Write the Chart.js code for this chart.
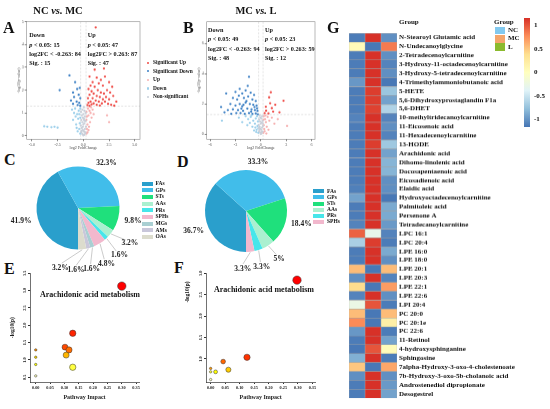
<!DOCTYPE html>
<html><head><meta charset="utf-8">
<script src="https://cdn.jsdelivr.net/npm/chart.js@4.4.0/dist/chart.umd.min.js"></script>
<style>
html,body{margin:0;padding:0;background:#fff;}
body{width:550px;height:409px;position:relative;overflow:hidden;font-family:"Liberation Serif","Times New Roman",serif;font-weight:bold;color:#111;}
.box{position:absolute;}
.t{position:absolute;white-space:nowrap;}
</style></head><body>
<script>
// ---------------- DATA ----------------
// Volcano A (NC vs MC): [log2FC, -log10 p]
const sigUpA=[[1.2,4.75],[0.6,2.6],[1.3,2.55],[2.1,2.6],[1.7,2.45],[0.9,2.35],[2.5,2.35],[1.5,2.3],[0.7,2.2],[1.1,2.15],[1.9,2.2],[2.8,2.15],[0.5,2.05],[1.4,2.0],[2.3,2.0],[0.8,1.95],[1.7,1.9],[2.6,1.9],[1.0,1.85],[2.0,1.85],[0.6,1.8],[1.3,1.75],[2.9,1.75],[1.6,1.7],[2.2,1.7],[0.45,1.65],[0.9,1.65],[1.9,1.6],[2.5,1.6],[1.2,1.55],[0.7,1.5],[1.5,1.5],[2.1,1.5],[3.2,1.5],[0.5,1.45],[1.0,1.42],[1.8,1.42],[2.4,1.4],[0.8,1.38],[1.3,1.36],[2.7,1.36],[0.4,1.35],[1.6,1.33],[2.0,2.95],[0.6,1.31],[1.1,2.9],[3.0,1.32]];
const sigDownA=[[-1.35,2.65],[-0.8,2.35],[-0.35,2.1],[-0.6,2.05],[-1.0,1.9],[-0.45,1.8],[-0.9,1.7],[-0.3,1.65],[-1.2,1.55],[-0.65,1.5],[-0.4,1.45],[-1.0,1.4],[-0.55,1.35],[-0.3,1.32],[-2.3,2.0]];
const upA=[[0.3,0.1],[0.35,0.3],[0.4,0.5],[0.3,0.7],[0.5,0.9],[0.6,1.1],[0.45,1.2],[0.7,1.0],[0.4,0.15],[0.55,0.4],[0.8,0.8],[0.35,0.85],[0.9,1.15],[0.65,0.6],[0.5,0.25],[1.0,0.95],[2.3,0.9],[2.5,0.6],[0.3,1.05],[0.75,1.25]];
const downA=[[-0.3,0.1],[-0.4,0.3],[-0.35,0.55],[-0.5,0.75],[-0.6,0.95],[-0.45,1.1],[-0.8,1.2],[-0.7,0.5],[-0.3,0.8],[-0.9,1.0],[-0.55,0.2],[-1.1,1.15],[-0.4,0.95],[-0.65,0.35],[-3.5,0.4],[-3.1,0.38],[-2.8,0.4],[-2.5,0.36],[-3.8,0.42],[-0.3,1.2],[-1.0,0.7],[-0.75,0.85]];
const nsA=[[0,0.02],[0.1,0.05],[-0.1,0.08],[0.2,0.12],[-0.2,0.15],[0.05,0.2],[-0.05,0.25],[0.15,0.3],[-0.15,0.35],[0.25,0.4],[-0.25,0.45],[0.0,0.5],[0.1,0.55],[-0.1,0.6],[0.2,0.65],[-0.2,0.7],[0.05,0.75],[-0.05,0.8],[0.15,0.85],[-0.15,0.9],[0.0,0.95],[0.22,1.0],[-0.22,1.05],[0.1,1.1],[-0.1,1.15],[0.05,1.25],[-0.05,0.4],[0.12,0.18],[-0.18,0.22],[0.08,0.68]];
// Volcano B (MC vs L)
const sigUpB=[[1.18,2.78],[0.98,2.44],[2.68,2.22],[0.59,1.82],[1.3,1.73],[1.7,1.95],[0.62,1.56],[0.9,1.38],[1.45,1.5],[2.2,1.45],[0.45,1.4],[1.1,2.05]];
const sigDownB=[[-1.4,3.8],[-4.1,2.7],[-4.7,1.8],[-2.5,3.0],[-3.0,2.8],[-2.2,2.7],[-1.8,2.9],[-1.2,2.75],[-0.8,2.6],[-3.3,2.4],[-2.8,2.3],[-2.0,2.4],[-1.5,2.5],[-1.0,2.3],[-0.6,2.2],[-3.6,2.0],[-3.0,1.9],[-2.5,2.0],[-2.2,1.85],[-1.8,2.1],[-1.3,2.0],[-0.9,1.95],[-0.5,1.9],[-3.9,1.6],[-3.3,1.65],[-2.7,1.6],[-2.1,1.55],[-1.6,1.7],[-1.1,1.65],[-0.7,1.6],[-0.4,1.55],[-2.9,1.4],[-2.4,1.4],[-1.9,1.35],[-1.4,1.4],[-1.0,1.35],[-0.6,1.38],[-0.35,1.32],[-1.7,2.2],[-2.6,2.55],[-3.5,1.35],[-1.15,1.5],[-0.75,1.8],[-2.3,1.7],[-4.3,1.45],[-1.55,3.2],[-2.05,1.95],[-0.45,1.72]];
const upB=[[0.3,0.1],[0.4,0.35],[0.35,0.6],[0.6,0.8],[0.5,1.0],[0.8,1.15],[0.45,0.2],[0.7,0.5],[1.0,0.9],[0.3,0.95],[1.3,1.1],[0.55,1.25],[0.9,0.3],[3.1,0.55],[1.6,0.7],[0.35,1.2],[2.0,1.0],[0.65,0.05]];
const downB=[[-0.3,0.1],[-0.5,0.3],[-0.4,0.55],[-0.7,0.7],[-0.9,0.9],[-0.6,1.05],[-1.2,1.15],[-1.5,1.0],[-0.35,0.85],[-1.0,0.5],[-0.8,0.25],[-1.8,1.2],[-0.45,1.2],[-2.2,0.8],[-1.3,0.75],[-0.55,0.15],[-2.6,1.1],[-4.6,0.9],[-0.3,0.4],[-1.1,1.25],[-0.65,0.45],[-1.6,0.6]];
const nsB=[[0,0.02],[0.1,0.08],[-0.1,0.12],[0.2,0.18],[-0.2,0.22],[0.05,0.3],[-0.05,0.38],[0.15,0.45],[-0.15,0.5],[0.25,0.55],[-0.25,0.62],[0,0.7],[0.1,0.78],[-0.1,0.85],[0.2,0.9],[-0.2,0.98],[0.05,1.05],[-0.05,1.12],[0.15,1.2],[-0.15,1.25],[0.08,0.15],[-0.12,0.32],[0.22,0.72],[-0.22,0.4]];
const FC_CUT=[-0.263,0.263];
const P_CUT=1.301;
const statsA={down:['Down','<i>p</i> &lt; 0.05: 15','log2FC &lt; -0.263: 84','Sig. : 15'],up:['Up','<i>p</i> &lt; 0.05: 47','log2FC &gt; 0.263: 87','Sig. : 47']};
const statsB={down:['Down','<i>p</i> &lt; 0.05: 49','log2FC &lt; -0.263: 94','Sig. : 48'],up:['Up','<i>p</i> &lt; 0.05: 23','log2FC &gt; 0.263: 59','Sig. : 12']};
const volLegend=['Significant Up','Significant Down','Up','Down','Non-significant'];

// Pies
const catsC=['FAs','GPs','STs','AAs','PRs','SPHs','MGs','AMs','OAs'];
const pctC=[41.9,32.3,9.8,3.2,1.6,4.8,1.6,1.6,3.2];
const catsD=['FAs','GPs','STs','AAs','PRs','SPHs'];
const pctD=[36.7,33.3,18.4,5,3.3,3.3];

// Pathway bubbles
const impactE=[0.30,0.129,0.102,0.116,0.106,0.129,0,0,0,0];
const logpE=[3.13,1.77,1.37,1.29,1.14,0.79,1.29,1.08,0.87,0.54];
const impactF=[0.297,0.125,0.043,0.061,0.017,0,0,0];
const logpF=[2.84,1.04,0.94,0.75,0.70,0.78,0.70,0.52];
const pathLabel='Arachidonic acid metabolism';

// Heatmap
const metabolites=['N-Stearoyl Glutamic acid','N-Undecanoylglycine','2-Tetradecenoylcarnitine','3-Hydroxy-11-octadecenoylcarnitine','3-Hydroxy-5-tetradecenoylcarnitine','4-Trimethylammoniobutanoic acid','5-HETE','5,6-Dihydroxyprostaglandin F1a','5,6-DHET','10-methyltridecanoylcarnitine','11-Eicosenoic acid','11-Hexadecenoylcarnitine','13-HODE','Arachidonic acid','Dihomo-linolenic acid','Docosapentaenoic acid','Eicosadienoic acid','Elaidic acid','Hydroxyoctadecenoylcarnitine','Palmitoleic acid','Persenone A','Tetradecanoylcarnitine','LPC 16:1','LPC 20:4','LPE 16:0','LPE 18:0','LPE 20:1','LPE 20:3','LPE 22:1','LPE 22:6','LPI 20:4','PC 20:0','PC 20:1e','PC 22:6','11-Retinol','4-hydroxysphinganine','Sphingosine','7alpha-Hydroxy-3-oxo-4-cholestenoate','7b-Hydroxy-3-oxo-5b-cholanoic acid','Androstenediol dipropionate','Desogestrel'];
const groups=['NC','MC','L'];
const zNC=[-1.12,0.05,-1.12,-1.12,-1.12,-0.98,-1.12,-1.12,-1.12,-1.08,-1.12,-1.12,-1.12,-1.12,-1.12,-1.12,-1.12,-1.1,-0.92,-1.12,-1.12,-1.08,0.95,-0.65,-1.12,-1.12,0.55,-1.02,0.4,-1.08,-0.25,0.55,0.78,-0.98,-1.12,-1.14,-0.85,0.5,-1.02,-1.12,-1.12];
const zMC=[1.15,-1.14,1.15,1.15,1.15,1.15,1.1,1.1,1.08,1.15,1.15,1.15,1.1,1.15,1.15,1.15,1.15,1.15,1.15,1.15,1.15,1.15,-0.3,1.1,1.15,1.15,-1.14,1.15,-1.14,1.15,1.0,-1.14,-1.14,1.15,1.15,1.0,1.15,-1.14,1.15,1.15,1.15];
const zL=[-1.02,0.85,-1.02,-1.08,-1.02,-1.14,-0.72,-0.92,-0.62,-1.08,-1.02,-1.08,-0.7,-0.92,-0.82,-0.82,-1.02,-1.02,-1.14,-0.88,-0.88,-0.97,-1.08,-1.12,-0.88,-1.02,0.55,-1.08,0.7,-1.02,-1.12,0.55,0.2,-1.12,-0.92,0.05,-1.12,0.65,-1.02,-0.97,-0.92];
const scaleTicks=[1,0.5,0,-0.5,-1];

// ---------------- STYLE ----------------
const COL={sigUp:'#ef4a45',sigDown:'#3b7fc4',up:'#f6b0b0',down:'#9ccfea',ns:'#c9cfd9'};
const pieColors=['#2a9fcc','#41bdea','#1fe07c','#aaf0d0','#47e6ea','#f2b8cd','#a9cfd2','#c9c7da','#dcdccd'];
const groupColors=['#82c9ef','#f4a56b','#8bba2e'];
const heatStops=['#4575B4','#91BFDB','#E0F3F8','#FFFFBF','#FEE090','#FC8D59','#D73027'];
const ZMIN=-1.155,ZMAX=1.155;
const FONT='"Liberation Serif","Times New Roman",serif';

Chart.defaults.font.family=FONT;
Chart.defaults.font.weight='bold';
Chart.defaults.animation=false;
Chart.defaults.plugins.legend.display=false;
Chart.defaults.plugins.tooltip.enabled=false;
Chart.defaults.responsive=true;
Chart.defaults.maintainAspectRatio=false;

function hex2rgb(h){return [parseInt(h.slice(1,3),16),parseInt(h.slice(3,5),16),parseInt(h.slice(5,7),16)];}
function zColor(z){
  let t=(z-ZMIN)/(ZMAX-ZMIN); t=Math.max(0,Math.min(1,t));
  const p=t*(heatStops.length-1), i=Math.min(heatStops.length-2,Math.floor(p)), f=p-i;
  const a=hex2rgb(heatStops[i]), b=hex2rgb(heatStops[i+1]);
  return 'rgb('+a.map((v,k)=>Math.round(v+(b[k]-v)*f)).join(',')+')';
}
function heatColors(n){
  const j=Math.floor(n/4), i=n-j, out=[];
  for(let k=0;k<i;k++){const g=i>1?k/(i-1):0; out.push('rgb(255,'+Math.round(255*g)+',0)');}
  for(let k=0;k<j;k++){const s=j>1?(1-1/(2*j))-k*((1-1/j)/(j-1)):0.5; out.push('rgb(255,255,'+Math.round(255*(1-s))+')');}
  return out;
}
function rankColors(vals){
  const hc=heatColors(vals.length);
  const order=vals.map((v,i)=>i).sort((a,b)=>vals[b]-vals[a]);
  const res=[]; order.forEach((idx,r)=>res[idx]=hc[r]); return res;
}

function mk(x,y,w,h){const d=document.createElement('div');d.className='box';d.style.cssText=`left:${x}px;top:${y}px;width:${w}px;height:${h}px`;const c=document.createElement('canvas');d.appendChild(c);document.body.appendChild(d);return c;}
function T(html,x,base,size,opt){opt=opt||{};const d=document.createElement('div');d.className='t';d.innerHTML=html;d.style.left=x+'px';d.style.top=(base-0.84*size)+'px';d.style.fontSize=size+'px';d.style.lineHeight=size+'px';if(opt.center)d.style.transform='translateX(-50%)';if(opt.color)d.style.color=opt.color;if(opt.normal)d.style.fontWeight='normal';document.body.appendChild(d);return d;}
function R(x,y,w,h,bg){const d=document.createElement('div');d.style.cssText=`position:absolute;left:${x}px;top:${y}px;width:${w}px;height:${h}px;background:${bg}`;document.body.appendChild(d);return d;}

// ---------------- PLUGINS ----------------
const framePlugin={id:'frame',afterDraw(chart){const {ctx,chartArea:c}=chart;ctx.save();ctx.strokeStyle='#8a8a8a';ctx.lineWidth=0.6;ctx.strokeRect(c.left,c.top,c.right-c.left,c.bottom-c.top);ctx.restore();}};
const threshPlugin={id:'thresh',beforeDatasetsDraw(chart,a,o){const {ctx,chartArea:c,scales:{x,y}}=chart;ctx.save();ctx.strokeStyle='#d0d0d0';ctx.lineWidth=0.6;ctx.setLineDash([2,1.5]);
  o.fc.forEach(v=>{const px=x.getPixelForValue(v);ctx.beginPath();ctx.moveTo(px,c.top);ctx.lineTo(px,c.bottom);ctx.stroke();});
  const py=y.getPixelForValue(o.p);ctx.beginPath();ctx.moveTo(c.left,py);ctx.lineTo(c.right,py);ctx.stroke();ctx.restore();}};
const rotY={id:'rotY',afterDraw(chart,a,o){const s=chart.scales.y,ctx=chart.ctx;ctx.save();ctx.font=`bold ${o.size}px ${FONT}`;ctx.fillStyle='#222';ctx.textAlign='center';ctx.textBaseline='bottom';
  s.ticks.forEach(t=>{const py=s.getPixelForValue(t.value);ctx.save();ctx.translate(s.right-o.gap,py);ctx.rotate(-Math.PI/2);ctx.fillText(t.value.toFixed(1),0,0);ctx.restore();});ctx.restore();}};
const pieLabels={id:'pieLabels',afterDatasetsDraw(chart,args,o){
  const ctx=chart.ctx, arcs=chart.getDatasetMeta(0).data, vals=chart.data.datasets[0].data;
  ctx.save();ctx.font=`bold ${o.size}px ${FONT}`;ctx.fillStyle='#222';ctx.strokeStyle='#a8a8a8';ctx.lineWidth=0.6;ctx.textAlign='center';ctx.textBaseline='middle';
  const cx=arcs[0].x, cy=arcs[0].y, r=arcs[0].outerRadius;
  const mids=arcs.map(a=>(a.startAngle+a.endAngle)/2);
  const small=[];vals.forEach((v,i)=>{if(v<o.smallLimit)small.push(i);});
  const ang={};let prev=-Infinity;const sep=o.minSep*Math.PI/180;
  small.forEach(i=>{const a=Math.max(mids[i],prev+sep);ang[i]=a;prev=a;});
  const shift=small.length?small.reduce((s,i)=>s+ang[i]-mids[i],0)/small.length*o.shiftFrac:0;
  small.forEach(i=>ang[i]-=shift);
  vals.forEach((v,i)=>{
    const txt=v+'%', w=ctx.measureText(txt).width, h=o.size*0.8;
    if(small.includes(i)){const a=ang[i],m=mids[i],rl=r+o.smallDist;
      ctx.beginPath();ctx.moveTo(cx+Math.cos(m)*(r+0.5),cy+Math.sin(m)*(r+0.5));ctx.lineTo(cx+Math.cos(a)*(rl-5),cy+Math.sin(a)*(rl-5));ctx.stroke();
      ctx.fillText(txt,cx+Math.cos(a)*rl,cy+Math.sin(a)*rl);
    }else{const m=mids[i],d=r+o.bigDist;
      ctx.fillText(txt,cx+Math.cos(m)*(d+w/2),cy+Math.sin(m)*(d+h/2));}
  });ctx.restore();}};

// ---------------- VOLCANO ----------------
function pts(a){return a.map(p=>({x:p[0],y:p[1]}));}
function volcano(canvas,s,xr,yr,xstep,ystep,fmt){
  const ds=(d,c)=>({data:pts(d),backgroundColor:c,pointRadius:1.15,pointBorderWidth:0});
  return new Chart(canvas,{type:'scatter',
    data:{datasets:[ds(s.ns,COL.ns),ds(s.down,COL.down),ds(s.up,COL.up),ds(s.sigDown,COL.sigDown),ds(s.sigUp,COL.sigUp)]},
    options:{layout:{padding:{top:6.7,right:5,left:0,bottom:0}},
      scales:{
        x:{type:'linear',min:xr[0],max:xr[1],ticks:{stepSize:xstep,includeBounds:false,font:{size:4,weight:'normal'},color:'#555',padding:1,maxRotation:0,callback:fmt},
           grid:{display:true,drawOnChartArea:false,tickLength:2,color:'#888'},border:{display:false},
           title:{display:true,text:'log2 FoldChange',font:{size:4,weight:'normal'},color:'#444',padding:0},afterFit(sc){sc.height=11.4;}},
        y:{type:'linear',min:yr[0],max:yr[1],ticks:{stepSize:ystep,includeBounds:false,font:{size:4,weight:'normal'},color:'#555',padding:1},
           grid:{display:true,drawOnChartArea:false,tickLength:2,color:'#888'},border:{display:false},
           title:{display:true,text:'-log10(p-value)',font:{size:4,weight:'normal'},color:'#444',padding:0},afterFit(sc){sc.width=9.7;}}},
      plugins:{thresh:{fc:FC_CUT,p:P_CUT}}},
    plugins:[framePlugin,threshPlugin]});
}
volcano(mk(17,15,128,134.7),{sigUp:sigUpA,sigDown:sigDownA,up:upA,down:downA,ns:nsA},[-5.5,5.5],[-0.15,5.0],2.5,1,v=>v.toFixed(1));
volcano(mk(197,15,123,134.7),{sigUp:sigUpB,sigDown:sigDownB,up:upB,down:downB,ns:nsB},[-6.4,6.4],[-0.33,7.44],3,2,v=>String(v));

// volcano texts
T('NC <i>vs.</i> MC',58,15,10.5,{center:true});
T('MC <i>vs.</i> L',256,15,10.5,{center:true});
T('A',3,33.3,16);T('B',183,33.3,16);T('G',327,33.3,16);
T('C',4,165,16);T('D',177,167,16);T('E',4,274,16);T('F',174,273,16);
statsA.down.forEach((s,i)=>T(s,29.3,37.5+i*9.3,6.2));
statsA.up.forEach((s,i)=>T(s,87.7,37.5+i*9.3,6.2));
statsB.down.forEach((s,i)=>T(s,208,32.3+i*9.25,6.2));
statsB.up.forEach((s,i)=>T(s,265,32.3+i*9.25,6.2));
const volLegCols=[COL.sigUp,COL.sigDown,COL.up,COL.down,COL.ns];
volLegend.forEach((s,i)=>{const cy=62.7+i*8.6;const d=R(146.8,cy-1.2,2.4,2.4,volLegCols[i]);d.style.borderRadius='50%';T(s,153,cy+1.9,5.4);});

// ---------------- PIES ----------------
function pie(canvas,vals,cols,pad,opts){
  return new Chart(canvas,{type:'pie',data:{labels:[],datasets:[{data:vals,backgroundColor:cols,borderWidth:0}]},
    options:{rotation:180,layout:{padding:pad},plugins:{pieLabels:opts}},plugins:[pieLabels]});
}
pie(mk(0,146,156,126),pctC,pieColors,{left:36.5,right:36.5,top:20.5,bottom:22.5},{size:7.5,smallLimit:6,minSep:14.5,shiftFrac:0.35,smallDist:21,bigDist:7});
pie(mk(176,146,140,128),pctD,pieColors,{left:29,right:29,top:24,bottom:22},{size:7.5,smallLimit:6,minSep:19,shiftFrac:0.4,smallDist:17,bigDist:6});
catsC.forEach((c,i)=>{const y=181.7+i*6.67;R(141.7,y,11,4,pieColors[i]);T(c,155.5,y+4,5.5);});
catsD.forEach((c,i)=>{const y=189.3+i*6.13;R(313.3,y,11,4,pieColors[i]);T(c,327,y+4,5.5);});

// ---------------- PATHWAY BUBBLES ----------------
function bubbles(canvas,imp,lp,xr,yr,pad,yW,tickFilter,showYTitle){
  const cols=rankColors(lp);
  return new Chart(canvas,{type:'scatter',
    data:{datasets:[{data:imp.map((v,i)=>({x:v,y:lp[i]})),backgroundColor:cols,borderColor:'#333',borderWidth:0.5,clip:false,
      pointRadius:c=>1.2+5.5*Math.sqrt(c.raw.x)}]},
    options:{layout:{padding:pad},
      scales:{
        x:{type:'linear',min:xr[0],max:xr[1],ticks:{stepSize:0.05,includeBounds:false,font:{size:4.3},color:'#222',padding:1,maxRotation:0,callback:v=>v.toFixed(2)},
           afterBuildTicks(s){s.ticks=s.ticks.filter(t=>t.value>-1e-9&&t.value<0.3501);},
           grid:{display:true,drawOnChartArea:false,tickLength:2,color:'#333'},border:{display:true,color:'#333',width:0.7},
           title:{display:true,text:'Pathway Impact',font:{size:6},color:'#222',padding:0},afterFit(s){s.height=19;}},
        y:{type:'linear',min:yr[0],max:yr[1],ticks:{stepSize:0.5,includeBounds:false,display:false},
           afterBuildTicks(s){s.ticks=s.ticks.filter(t=>t.value>=tickFilter-1e-9);},
           grid:{display:true,drawOnChartArea:false,tickLength:2,color:'#333'},border:{display:true,color:'#333',width:0.7},
           title:{display:showYTitle,text:'-log10(p)',font:{size:5.5},color:'#222',padding:{top:9,bottom:0}},afterFit(s){s.width=yW;}}},
      plugins:{rotY:{size:4.3,gap:3}}},
    plugins:[rotY]});
}
bubbles(mk(0,262,150,139),impactE,logpE,[-0.02,0.36],[0.364,3.5],{top:11.3,right:11,left:0,bottom:0},30,0.5,true);
bubbles(mk(194,262,126,139),impactF,logpF,[-0.016,0.36],[0.463,3.0],{top:11.3,right:3.8,left:0,bottom:0},12,1.0,false);
T(pathLabel,90,298,8,{center:true});
T(pathLabel,264,293,8,{center:true});
(function(){const d=T('-log10(p)',188,292,5.5);d.style.top='292px';d.style.lineHeight='1';d.style.transform='translate(-50%,-50%) rotate(-90deg)';})();

// ---------------- HEATMAP ----------------
const zAll=[zNC,zMC,zL];
const yAxisRight={stacked:true,position:'right',grid:{display:false,drawTicks:false,tickLength:0},border:{display:false},ticks:{font:{size:7},color:'#111',padding:2,autoSkip:false},afterFit(s){s.width=142;}};
new Chart(mk(349,16,190,11),{type:'bar',
  data:{labels:['Group'],datasets:groups.map((g,gi)=>({label:g,data:[1],backgroundColor:groupColors[gi],borderWidth:0,barPercentage:1,categoryPercentage:1}))},
  options:{indexAxis:'y',layout:{padding:{top:3,bottom:3,left:0,right:0}},
    scales:{x:{stacked:true,display:false,min:0,max:3},y:yAxisRight}}});
new Chart(mk(349,27.2,190,376.4),{type:'bar',
  data:{labels:metabolites,datasets:groups.map((g,gi)=>({label:g,data:metabolites.map(()=>1),backgroundColor:zAll[gi].map(zColor),
    borderColor:'#a3a3a3',borderWidth:0.5,borderSkipped:false,barPercentage:1,categoryPercentage:1}))},
  options:{indexAxis:'y',layout:{padding:0},
    scales:{x:{stacked:true,display:false,min:0,max:3},y:yAxisRight}}});
// group legend
T('Group',494,25,7);
groups.forEach((g,i)=>{const y=26.7+i*8.3;R(495,y,9.5,7.5,groupColors[i]);T(g,508,y+6.2,7);});
// colour bar
(function(){const top=18.3,bot=126.7;const g=heatStops.slice().reverse().join(',');R(524,top,6,bot-top,'linear-gradient(to bottom,'+g+')');
  scaleTicks.forEach(v=>{const y=top+(ZMAX-v)/(ZMAX-ZMIN)*(bot-top);T(String(v),534,y+2.5,7);});})();
</script>
</body></html>
